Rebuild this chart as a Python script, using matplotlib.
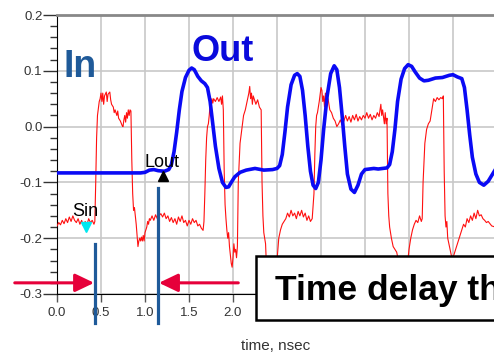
import matplotlib
matplotlib.use("Agg")
import matplotlib.pyplot as plt
from matplotlib.patches import Rectangle
from matplotlib.ticker import MultipleLocator

plt.rcParams['font.family'] = ['Liberation Sans', 'DejaVu Sans']
plt.rcParams['axes.unicode_minus'] = False

# output waveform (Lout)
out_t = [0.0, 0.5, 0.95, 1.0, 1.05, 1.1, 1.15, 1.22, 1.27, 1.30, 1.33, 1.36, 1.39, 1.42,
         1.46, 1.50, 1.53, 1.56, 1.60, 1.64, 1.68, 1.71, 1.74, 1.77, 1.80, 1.84, 1.88,
         1.92, 1.95, 1.98, 2.02, 2.08, 2.15, 2.25, 2.35, 2.45, 2.50, 2.53, 2.56, 2.59,
         2.62, 2.66, 2.70, 2.73, 2.76, 2.79, 2.82, 2.85, 2.88, 2.91, 2.94, 2.97, 3.00,
         3.03, 3.07, 3.11, 3.15, 3.18, 3.21, 3.24, 3.27, 3.30, 3.34, 3.38, 3.42, 3.46,
         3.50, 3.55, 3.60, 3.65, 3.70, 3.75, 3.78, 3.81, 3.84, 3.87, 3.91, 3.95, 3.99,
         4.03, 4.07, 4.12, 4.17, 4.22, 4.30, 4.38, 4.46, 4.50, 4.55, 4.60, 4.63, 4.66,
         4.69, 4.72, 4.76, 4.80, 4.85, 4.90, 4.95, 5.0]
out_v = [-0.083, -0.083, -0.083, -0.082, -0.078, -0.077, -0.079, -0.080, -0.077, -0.068,
         -0.045, -0.010, 0.030, 0.063, 0.088, 0.101, 0.105, 0.102, 0.090, 0.082, 0.077,
         0.070, 0.045, 0.005, -0.035, -0.075, -0.100, -0.109, -0.108, -0.100, -0.090,
         -0.082, -0.078, -0.075, -0.078, -0.077, -0.075, -0.070, -0.050, -0.010, 0.035,
         0.075, 0.092, 0.095, 0.090, 0.065, 0.020, -0.035, -0.080, -0.105, -0.111,
         -0.100, -0.060, -0.005, 0.055, 0.095, 0.109, 0.102, 0.070, 0.020, -0.035,
         -0.085, -0.112, -0.118, -0.105, -0.085, -0.077, -0.076, -0.075, -0.076, -0.075,
         -0.074, -0.068, -0.045, -0.005, 0.045, 0.085, 0.104, 0.111, 0.108, 0.098,
         0.087, 0.082, 0.083, 0.087, 0.088, 0.092, 0.093, 0.089, 0.086, 0.070, 0.030,
         -0.015, -0.055, -0.085, -0.100, -0.105, -0.098, -0.085, -0.072]

# input waveform (Sin)
in_t = [0.00, 0.02, 0.04, 0.06, 0.08, 0.10, 0.12, 0.14, 0.16, 0.18, 0.20, 0.22, 0.24,
        0.26, 0.28, 0.30, 0.32, 0.34, 0.36, 0.38, 0.40, 0.42, 0.43, 0.44, 0.45, 0.46,
        0.48, 0.49, 0.50, 0.51, 0.52, 0.53, 0.54, 0.56, 0.57, 0.58, 0.60, 0.61, 0.62,
        0.64, 0.65, 0.66, 0.68, 0.69, 0.70, 0.72, 0.74, 0.75, 0.76, 0.77, 0.78, 0.79,
        0.80, 0.81, 0.82, 0.83, 0.84, 0.85, 0.86, 0.87, 0.88, 0.89, 0.90, 0.91, 0.92,
        0.93, 0.94, 0.95, 0.96, 0.97, 0.98, 0.99, 1.00, 1.01, 1.02, 1.03, 1.04, 1.05,
        1.06, 1.08, 1.10, 1.12, 1.14, 1.16, 1.18, 1.20, 1.22, 1.24, 1.26, 1.28, 1.30,
        1.32, 1.34, 1.36, 1.38, 1.40, 1.42, 1.44, 1.46, 1.48, 1.50, 1.52, 1.54, 1.56,
        1.58, 1.60, 1.62, 1.64, 1.66, 1.67, 1.68, 1.69, 1.70, 1.71, 1.72, 1.73, 1.74,
        1.76, 1.77, 1.78, 1.80, 1.82, 1.84, 1.86, 1.87, 1.88, 1.89, 1.90, 1.91, 1.92,
        1.93, 1.94, 1.95, 1.96, 1.97, 1.98, 1.99, 2.00, 2.01, 2.02, 2.03, 2.04, 2.05,
        2.06, 2.08, 2.10, 2.12, 2.14, 2.16, 2.18, 2.19, 2.20, 2.21, 2.22, 2.23, 2.24,
        2.26, 2.28, 2.30, 2.32, 2.33, 2.34, 2.35, 2.36, 2.37, 2.38, 2.40, 2.44, 2.48,
        2.50, 2.52, 2.54, 2.56, 2.58, 2.60, 2.62, 2.64, 2.66, 2.68, 2.70, 2.72, 2.74,
        2.76, 2.78, 2.80, 2.82, 2.84, 2.86, 2.88, 2.90, 2.92, 2.93, 2.94, 2.95, 2.96,
        2.98, 3.00, 3.01, 3.02, 3.03, 3.04, 3.05, 3.06, 3.08, 3.10, 3.12, 3.14, 3.16,
        3.18, 3.20, 3.22, 3.24, 3.26, 3.28, 3.30, 3.32, 3.34, 3.36, 3.38, 3.40, 3.42,
        3.44, 3.46, 3.48, 3.50, 3.52, 3.54, 3.56, 3.58, 3.60, 3.62, 3.64, 3.66, 3.68,
        3.69, 3.70, 3.72, 3.73, 3.74, 3.75, 3.76, 3.77, 3.78, 3.80, 3.82, 3.84, 3.86,
        3.88, 3.90, 3.94, 3.98, 4.00, 4.02, 4.04, 4.06, 4.08, 4.10, 4.12, 4.14, 4.15,
        4.16, 4.18, 4.20, 4.22, 4.24, 4.26, 4.28, 4.30, 4.32, 4.34, 4.36, 4.38, 4.39,
        4.40, 4.41, 4.42, 4.43, 4.44, 4.46, 4.48, 4.50, 4.52, 4.54, 4.56, 4.58, 4.60,
        4.62, 4.64, 4.66, 4.68, 4.70, 4.72, 4.74, 4.76, 4.78, 4.80, 4.82, 4.84, 4.86,
        4.88, 4.90, 4.94, 4.98]
in_v = [-0.178, -0.172, -0.176, -0.168, -0.174, -0.165, -0.172, -0.162, -0.170, -0.160,
        -0.168, -0.172, -0.165, -0.175, -0.168, -0.178, -0.170, -0.176, -0.165, -0.172,
        -0.168, -0.175, -0.170, -0.100, -0.020, 0.020, 0.045, 0.050, 0.060, 0.045, 0.060,
        0.040, 0.055, 0.062, 0.045, 0.058, 0.062, 0.048, 0.040, 0.035, 0.025, 0.030,
        0.020, 0.028, 0.015, 0.010, 0.002, 0.000, 0.012, 0.020, 0.008, 0.025, 0.015,
        0.030, 0.020, 0.030, 0.028, -0.060, -0.120, -0.150, -0.145, -0.160, -0.175,
        -0.195, -0.215, -0.205, -0.200, -0.205, -0.198, -0.205, -0.195, -0.205, -0.190,
        -0.185, -0.180, -0.170, -0.175, -0.165, -0.168, -0.160, -0.168, -0.158, -0.165,
        -0.160, -0.156, -0.162, -0.155, -0.165, -0.160, -0.170, -0.163, -0.172, -0.165,
        -0.175, -0.162, -0.170, -0.160, -0.172, -0.168, -0.178, -0.168, -0.175, -0.165,
        -0.172, -0.168, -0.178, -0.175, -0.182, -0.186, -0.170, -0.120, -0.060, -0.020,
        0.000, 0.005, 0.020, 0.040, 0.050, 0.042, 0.050, 0.045, 0.052, 0.045, 0.053,
        0.040, 0.055, 0.030, -0.080, -0.140, -0.165, -0.185, -0.200, -0.190, -0.215,
        -0.230, -0.245, -0.252, -0.235, -0.210, -0.225, -0.220, -0.235, -0.215, -0.100,
        -0.030, -0.005, 0.020, 0.030, 0.045, 0.060, 0.072, 0.050, 0.060, 0.040, 0.055,
        0.050, 0.040, 0.048, 0.035, 0.030, -0.100, -0.160, -0.190, -0.200, -0.210,
        -0.250, -0.270, -0.280, -0.270, -0.240, -0.200, -0.185, -0.175, -0.170, -0.165,
        -0.155, -0.162, -0.150, -0.160, -0.155, -0.165, -0.152, -0.160, -0.150, -0.162,
        -0.155, -0.168, -0.160, -0.170, -0.165, -0.120, -0.050, 0.000, 0.020, 0.025,
        0.045, 0.070, 0.065, 0.045, 0.055, 0.035, 0.060, 0.040, 0.050, 0.030, 0.025,
        0.015, 0.010, 0.000, 0.005, 0.012, 0.003, 0.010, 0.020, 0.010, 0.018, 0.008,
        0.020, 0.012, 0.022, 0.010, 0.018, 0.012, 0.020, 0.015, 0.025, 0.015, 0.022,
        0.012, 0.020, 0.015, 0.025, 0.018, 0.040, 0.020, 0.030, 0.005, 0.025, 0.005,
        0.015, -0.120, -0.160, -0.180, -0.200, -0.215, -0.220, -0.225, -0.240, -0.260,
        -0.270, -0.250, -0.220, -0.200, -0.185, -0.175, -0.168, -0.172, -0.160, -0.170,
        -0.165, -0.100, -0.030, -0.005, 0.005, 0.010, 0.030, 0.050, 0.045, 0.052, 0.048,
        0.052, 0.050, 0.055, -0.080, -0.160, -0.180, -0.170, -0.200, -0.215, -0.230,
        -0.235, -0.225, -0.215, -0.205, -0.195, -0.185, -0.175, -0.180, -0.165, -0.172,
        -0.160, -0.168, -0.155, -0.165, -0.150, -0.160, -0.158, -0.165, -0.168, -0.172,
        -0.170, -0.178, -0.180]

x_ticks = [0.0, 0.5, 1.0, 1.5, 2.0, 2.5, 3.0, 3.5, 4.0, 4.5]
y_ticks = [-0.3, -0.2, -0.1, 0.0, 0.1, 0.2]

# marker positions and delay markers
sin_marker = (0.33, -0.18)
lout_marker = (1.2, -0.089)
delay_start = 0.432
delay_end = 1.148

fig = plt.figure(figsize=(4.94, 3.54), dpi=100)
ax = fig.add_axes([57 / 494, 1 - 294 / 354, 437 / 494, 279 / 354])

ax.plot(in_t, in_v, color='#ff1010', lw=0.8, zorder=3)
ax.plot(out_t, out_v, color='#0a0af5', lw=2.6, zorder=4, solid_joinstyle='round')

ax.plot(*sin_marker, marker='v', color='#00e8f0', markersize=7, zorder=5)
ax.plot(*lout_marker, marker='^', color='black', markersize=6.5, zorder=5)
ax.text(0.17, -0.161, 'Sin', fontsize=13, color='black', zorder=6)
ax.text(1.0, -0.072, 'Lout', fontsize=13, color='black', zorder=6)

ax.text(0.07, 0.088, 'In', fontsize=27, fontweight='bold', color='#1f5a99', zorder=6)
ax.text(1.53, 0.118, 'Out', fontsize=26, fontweight='bold', color='#0a0adc', zorder=6)

# vertical delay lines and arrows
ax.plot([delay_start, delay_start], [-0.21, -0.352], color='#1f5a99', lw=2.3,
        clip_on=False, zorder=7)
ax.plot([delay_end, delay_end], [-0.11, -0.352], color='#1f5a99', lw=2.3,
        clip_on=False, zorder=7)
arrow_props = dict(arrowstyle='-|>,head_length=1.15,head_width=0.55', color='#e6003a',
                   lw=2.2, mutation_scale=10, shrinkA=0, shrinkB=0)
ax.annotate('', xy=(delay_start - 0.01, -0.280), xytext=(-0.48, -0.280),
            arrowprops=arrow_props, annotation_clip=False, zorder=6)
ax.annotate('', xy=(delay_end + 0.01, -0.280), xytext=(2.06, -0.280),
            arrowprops=arrow_props, annotation_clip=False, zorder=6)

ax.set_xlim(0, 437 / 88)
ax.set_ylim(-0.3, 0.2)
ax.set_xticks(x_ticks)
ax.set_xticklabels(['%.1f' % v for v in x_ticks])
ax.set_yticks(y_ticks)
ax.set_yticklabels(['%.1f' % v for v in y_ticks])
ax.yaxis.set_minor_locator(MultipleLocator(0.02))
ax.grid(True, which='major', color='#c8c8c8', lw=1.2)
ax.set_axisbelow(True)

ax.tick_params(axis='y', which='major', direction='out', length=10, width=1,
               color='#333333', labelsize=9.5, labelcolor='#333333', pad=0.5)
ax.tick_params(axis='y', which='minor', direction='out', length=5, width=1,
               color='#333333')
ax.tick_params(axis='x', which='major', direction='out', length=6, width=1,
               color='#555555', labelsize=9.5, labelcolor='#333333', pad=3)

ax.spines['right'].set_visible(False)
ax.spines['top'].set_color('#888888')
ax.spines['top'].set_linewidth(2)
ax.spines['left'].set_color('black')
ax.spines['bottom'].set_color('black')

ax.set_xlabel('time, nsec', fontsize=11, color='#333333', labelpad=15)

# caption box; its text runs off the right edge as in the source
ax.add_patch(Rectangle((256 / 494, 1 - 320 / 354), 0.6, 64 / 354, transform=fig.transFigure,
                       facecolor='white', edgecolor='black', lw=1.8, clip_on=False, zorder=10))
ax.text(275 / 494, 1 - 300 / 354, 'Time delay th', transform=fig.transFigure,
        fontsize=25.5, fontweight='bold', color='black', ha='left', va='baseline', zorder=11)

fig.savefig('out.png', dpi=100)
